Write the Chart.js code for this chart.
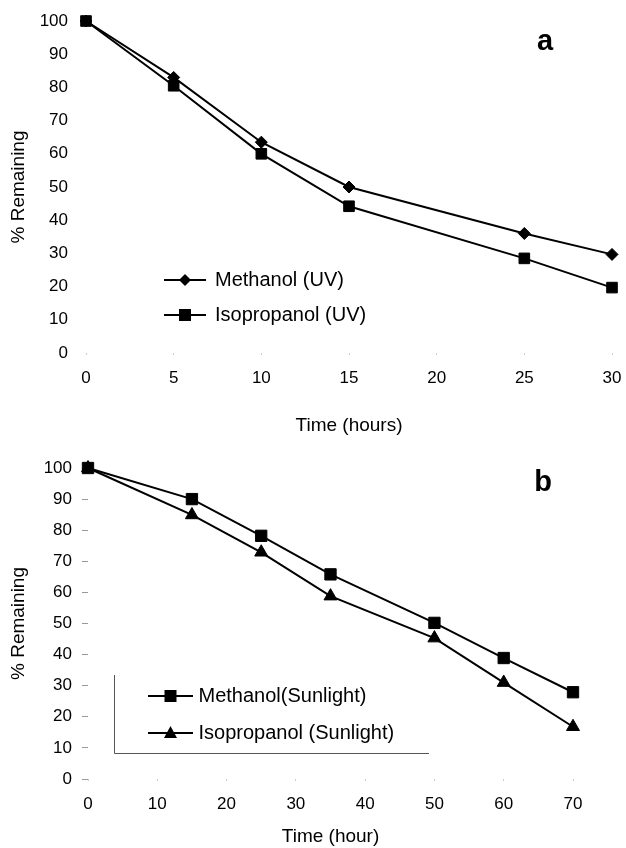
<!DOCTYPE html>
<html>
<head>
<meta charset="utf-8">
<script src="https://cdn.jsdelivr.net/npm/chart.js@4.4.1/dist/chart.umd.min.js"></script>
<style>
  body { margin: 0; background: #fff; }
  canvas { position: absolute; left: 0; }
  #chartA { top: 0; }
  #chartB { top: 445px; }
</style>
</head>
<body>
<canvas id="chartA" width="626" height="445"></canvas>
<canvas id="chartB" width="626" height="403"></canvas>
<script>
// panel a: UV
const timeUV = [0, 5, 10, 15, 25, 30];
const methanolUV = [100, 83, 63.5, 50, 36, 29.7];
const isopropanolUV = [100, 80.5, 60, 44.2, 28.5, 19.7];
const xTicksUV = [0, 5, 10, 15, 20, 25, 30];

// panel b: sunlight
const timeSun = [0, 15, 25, 35, 50, 60, 70];
const methanolSun = [100, 90, 78.2, 65.8, 50.2, 38.9, 27.9];
const isopropanolSun = [100, 84.9, 72.9, 58.8, 45.3, 31, 16.8];
const xTicksSun = [0, 10, 20, 30, 40, 50, 60, 70];

const yTicks = [0, 10, 20, 30, 40, 50, 60, 70, 80, 90, 100];

const FONT = "'Liberation Sans', Arial, sans-serif";

function toPoints(xs, ys) {
  return xs.map((x, i) => ({ x: x, y: ys[i] }));
}

// little line + marker picture for the legend
function legendIcon(shape, w) {
  const c = document.createElement("canvas");
  c.width = w;
  c.height = 18;
  const ctx = c.getContext("2d");
  const cx = w / 2, cy = 9;
  ctx.strokeStyle = "#000";
  ctx.fillStyle = "#000";
  ctx.lineWidth = 2;
  ctx.beginPath();
  ctx.moveTo(0, cy);
  ctx.lineTo(w, cy);
  ctx.stroke();
  ctx.beginPath();
  if (shape === "rect") {
    ctx.rect(cx - 6, cy - 6, 12, 12);
  } else if (shape === "rectRot") {
    ctx.moveTo(cx - 6, cy);
    ctx.lineTo(cx, cy - 6);
    ctx.lineTo(cx + 6, cy);
    ctx.lineTo(cx, cy + 6);
    ctx.closePath();
  } else {
    ctx.moveTo(cx, cy - 7);
    ctx.lineTo(cx + 6.5, cy + 5);
    ctx.lineTo(cx - 6.5, cy + 5);
    ctx.closePath();
  }
  ctx.fill();
  return c;
}

// moves the legend to a spot inside the plot and draws panel letter / frame
const panelExtras = {
  id: "panelExtras",
  afterUpdate(chart, args, opts) {
    const lg = chart.legend;
    const w = lg.width, h = lg.height;
    lg.left = opts.legendX;
    lg.top = opts.legendY;
    lg.right = lg.left + w;
    lg.bottom = lg.top + h;
    lg.adjustHitBoxes();
  },
  afterDraw(chart, args, opts) {
    const ctx = chart.ctx;
    ctx.save();
    ctx.fillStyle = "#000";
    ctx.font = "bold 29px " + FONT;
    ctx.textAlign = "center";
    ctx.textBaseline = "middle";
    ctx.fillText(opts.letter, opts.letterX, opts.letterY);
    if (opts.frame) {
      const f = opts.frame;
      ctx.strokeStyle = "#555";
      ctx.lineWidth = 1;
      ctx.beginPath();
      ctx.moveTo(f.left + 0.5, f.top);
      ctx.lineTo(f.left + 0.5, f.bottom + 0.5);
      ctx.lineTo(f.right, f.bottom + 0.5);
      ctx.stroke();
    }
    ctx.restore();
  }
};

function makeChart(id, cfg) {
  const icons = cfg.shapes.map((s) => legendIcon(s, cfg.iconWidth));
  return new Chart(document.getElementById(id), {
    type: "line",
    data: {
      datasets: cfg.series.map((s, i) => ({
        label: s.label,
        data: toPoints(cfg.xs, s.values),
        borderColor: "#000",
        backgroundColor: "#000",
        borderWidth: 2,
        pointStyle: cfg.shapes[i],
        pointRadius: cfg.radii[i],
        pointBorderWidth: 1,
        pointBackgroundColor: "#000",
        pointBorderColor: "#000",
        tension: 0,
        clip: false,
      })),
    },
    options: {
      responsive: false,
      animation: false,
      layout: { padding: cfg.padding },
      plugins: {
        tooltip: { enabled: false },
        legend: {
          position: "chartArea",
          align: "start",
          labels: {
            usePointStyle: true,
            pointStyleWidth: cfg.boxWidth,
            padding: cfg.legendGap,
            color: "#000",
            font: { family: FONT, size: 20 },
            generateLabels: (chart) =>
              chart.data.datasets.map((ds, i) => ({
                text: ds.label,
                pointStyle: icons[i],
                fillStyle: "#000",
                strokeStyle: "#000",
                lineWidth: 0,
                fontColor: "#000",
                hidden: false,
                datasetIndex: i,
              })),
          },
        },
        panelExtras: cfg.extras,
      },
      scales: {
        x: {
          type: "linear",
          min: cfg.xTicks[0],
          max: cfg.xTicks[cfg.xTicks.length - 1],
          afterBuildTicks: (scale) => {
            scale.ticks = cfg.xTicks.map((v) => ({ value: v }));
          },
          afterFit: (scale) => {
            scale.height = cfg.xHeight;
            scale.paddingLeft = 0;
            scale.paddingRight = 0;
          },
          border: { display: false },
          grid: { drawOnChartArea: false, drawTicks: true, tickLength: 2, color: "#ccc" },
          ticks: { color: "#000", font: { family: FONT, size: 17 }, padding: 13, maxRotation: 0 },
          title: {
            display: true,
            text: cfg.xTitle,
            color: "#000",
            font: { family: FONT, size: 19 },
            padding: { top: 0, bottom: cfg.xTitlePad },
          },
        },
        y: {
          min: 0,
          max: 100,
          afterBuildTicks: (scale) => {
            scale.ticks = yTicks.map((v) => ({ value: v }));
          },
          afterFit: (scale) => {
            scale.width = cfg.yWidth;
            scale.paddingTop = 0;
            scale.paddingBottom = 0;
          },
          border: { display: false },
          grid: cfg.yGrid,
          ticks: { color: "#000", font: { family: FONT, size: 17 }, padding: cfg.yTickPad },
          title: {
            display: true,
            text: "% Remaining",
            color: "#000",
            font: { family: FONT, size: 19 },
            padding: { top: 7, bottom: 0 },
          },
        },
      },
    },
    plugins: [panelExtras],
  });
}

makeChart("chartA", {
  xs: timeUV,
  series: [
    { label: "Methanol (UV)", values: methanolUV },
    { label: "Isopropanol (UV)", values: isopropanolUV },
  ],
  shapes: ["rectRot", "rect"],
  radii: [6, 7.5],
  iconWidth: 42,
  boxWidth: 40,
  legendGap: 15,
  xTicks: xTicksUV,
  xTitle: "Time (hours)",
  xHeight: 92,
  xTitlePad: 8,
  yWidth: 86,
  yTickPad: 18,
  yGrid: { display: false, drawTicks: false },
  padding: { top: 21, right: 14, left: 0, bottom: 0 },
  extras: { legendX: 150, legendY: 255, letter: "a", letterX: 545, letterY: 42 },
});

makeChart("chartB", {
  xs: timeSun,
  series: [
    { label: "Methanol(Sunlight)", values: methanolSun },
    { label: "Isopropanol (Sunlight)", values: isopropanolSun },
  ],
  shapes: ["rect", "triangle"],
  radii: [8, 7.5],
  iconWidth: 45,
  boxWidth: 36,
  legendGap: 17,
  xTicks: xTicksSun,
  xTitle: "Time (hour)",
  xHeight: 69,
  xTitlePad: 0,
  yWidth: 88,
  yTickPad: 10,
  yGrid: { drawOnChartArea: false, drawTicks: true, tickLength: 6, color: "#999" },
  padding: { top: 23, right: 53, left: 0, bottom: 0 },
  extras: {
    legendX: 135.5, legendY: 224, letter: "b", letterX: 543, letterY: 38,
    frame: { left: 114, top: 230, right: 429, bottom: 308 },
  },
});
</script>
</body>
</html>
